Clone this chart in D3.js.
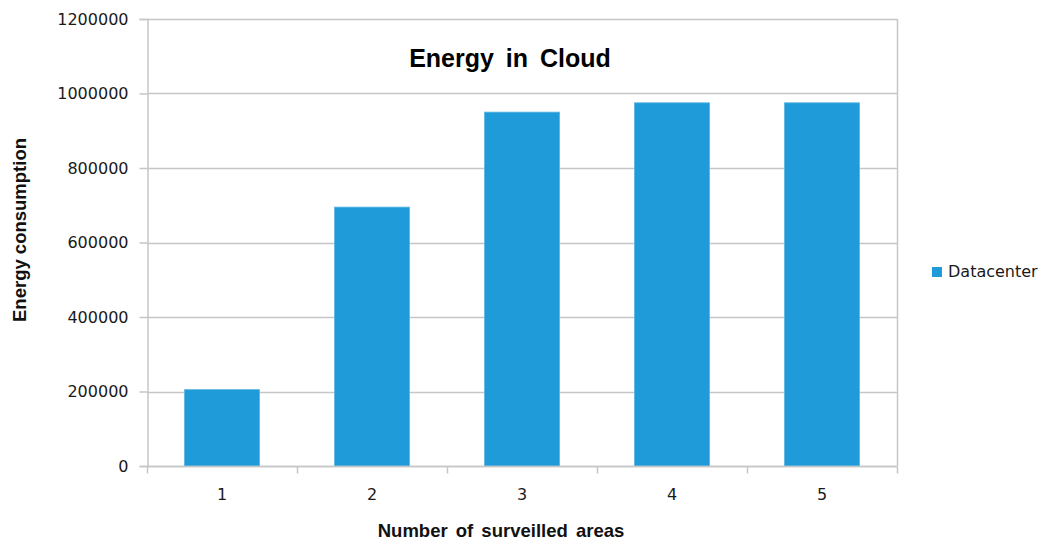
<!DOCTYPE html>
<html>
<head>
<meta charset="utf-8">
<script src="https://cdn.jsdelivr.net/npm/d3@7"></script>
<style>
  html, body { margin: 0; padding: 0; background: #fff; }
  svg { display: block; }
</style>
</head>
<body>
<svg id="chart" width="1046" height="540"></svg>
<script>
// Energy used by the datacenter for each number of surveilled areas
const categories = ["1", "2", "3", "4", "5"];
const seriesName = "Datacenter";
const datacenterValues = [205000, 695000, 950000, 975000, 975000];
const yTicks = [0, 200000, 400000, 600000, 800000, 1000000, 1200000];

const svg = d3.select("#chart");
const plot = { left: 147, right: 897, top: 19, bottom: 466 };
const barColor = "#1e9bd8";
const gridColor = "#c6c6c6";
const tickFont = "'DejaVu Sans', Verdana, sans-serif";
const titleFont = "'Liberation Sans', Arial, sans-serif";

const x = d3.scaleBand()
  .domain(categories)
  .range([plot.left, plot.right])
  .paddingInner(0.5)
  .paddingOuter(0.25);

const xEdges = d3.scaleBand().domain(categories).range([plot.left, plot.right]);

const y = d3.scaleLinear()
  .domain([0, 1200000])
  .range([plot.bottom, plot.top]);

// horizontal gridlines
svg.append("g")
  .selectAll("line")
  .data(yTicks)
  .join("line")
  .attr("x1", plot.left)
  .attr("x2", plot.right)
  .attr("y1", d => Math.round(y(d)) + 0.5)
  .attr("y2", d => Math.round(y(d)) + 0.5)
  .attr("stroke", gridColor)
  .attr("stroke-width", 1.5);

// right border of the plot area
svg.append("line")
  .attr("x1", plot.right + 0.5).attr("x2", plot.right + 0.5)
  .attr("y1", plot.top).attr("y2", plot.bottom)
  .attr("stroke", gridColor).attr("stroke-width", 1.5);

// bars
svg.append("g")
  .selectAll("rect")
  .data(datacenterValues)
  .join("rect")
  .attr("x", (d, i) => x(categories[i]))
  .attr("width", x.bandwidth())
  .attr("y", d => y(d))
  .attr("height", d => y(0) - y(d))
  .attr("fill", barColor)
  .attr("stroke", "#5ab6e4")
  .attr("stroke-width", 0.8);

// y axis
const yAxis = svg.append("g")
  .attr("transform", `translate(${plot.left + 0.5},0)`)
  .call(d3.axisLeft(y).tickValues(yTicks).tickFormat(d3.format("d")).tickSize(8).tickPadding(11));
yAxis.select(".domain").attr("stroke", gridColor).attr("stroke-width", 1.5);
yAxis.selectAll(".tick line").attr("stroke", gridColor).attr("stroke-width", 1.5);
yAxis.selectAll(".tick text")
  .attr("font-family", tickFont)
  .attr("font-size", 16)
  .attr("fill", "#1a1a1a");

// x axis: ticks sit on category boundaries
const xAxis = svg.append("g")
  .attr("transform", `translate(0,${plot.bottom + 0.5})`);
xAxis.append("line")
  .attr("x1", plot.left).attr("x2", plot.right)
  .attr("stroke", gridColor).attr("stroke-width", 1.5);
const boundaries = categories.map(c => xEdges(c)).concat([plot.right]);
xAxis.selectAll("line.bound")
  .data(boundaries)
  .join("line")
  .attr("class", "bound")
  .attr("x1", d => d + 0.5).attr("x2", d => d + 0.5)
  .attr("y1", 0).attr("y2", 7)
  .attr("stroke", gridColor).attr("stroke-width", 1.5);
xAxis.selectAll("text")
  .data(categories)
  .join("text")
  .attr("x", d => x(d) + x.bandwidth() / 2)
  .attr("y", 33)
  .attr("text-anchor", "middle")
  .attr("font-family", tickFont)
  .attr("font-size", 16)
  .attr("fill", "#1a1a1a")
  .text(d => d);

// chart title
svg.append("text")
  .attr("x", 510)
  .attr("y", 67)
  .attr("text-anchor", "middle")
  .attr("font-family", titleFont)
  .attr("font-weight", "bold")
  .attr("font-size", 25)
  .attr("word-spacing", 5)
  .attr("fill", "#000")
  .text("Energy in Cloud");

// axis titles
svg.append("text")
  .attr("x", 501)
  .attr("y", 537)
  .attr("text-anchor", "middle")
  .attr("font-family", titleFont)
  .attr("font-weight", "bold")
  .attr("font-size", 18.5)
  .attr("word-spacing", 3)
  .attr("fill", "#111")
  .text("Number of surveilled areas");

svg.append("text")
  .attr("transform", "translate(26,230) rotate(-90)")
  .attr("text-anchor", "middle")
  .attr("font-family", titleFont)
  .attr("font-weight", "bold")
  .attr("font-size", 18.5)
  .attr("fill", "#111")
  .text("Energy consumption");

// legend
const legend = svg.append("g").attr("transform", "translate(932,267)");
legend.append("rect")
  .attr("width", 10).attr("height", 10)
  .attr("fill", barColor);
legend.append("text")
  .attr("x", 16)
  .attr("y", 10)
  .attr("font-family", tickFont)
  .attr("font-size", 16)
  .attr("fill", "#1a1a1a")
  .text(seriesName);
</script>
</body>
</html>
